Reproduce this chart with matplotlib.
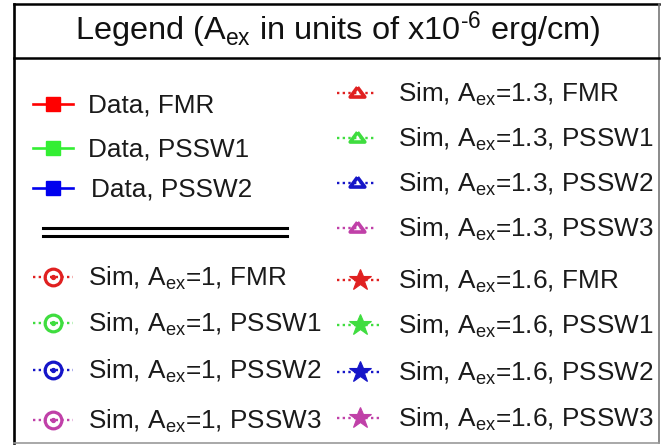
import matplotlib
matplotlib.use("Agg")
import matplotlib.pyplot as plt

plt.rcParams['font.family'] = ['Liberation Sans', 'DejaVu Sans']
plt.rcParams['mathtext.fontset'] = 'custom'
plt.rcParams['mathtext.rm'] = 'Liberation Sans'
plt.rcParams['mathtext.it'] = 'Liberation Sans:italic'
plt.rcParams['mathtext.bf'] = 'Liberation Sans:bold'

# Legend content
title = "Legend (A$_\\mathrm{ex}$ in units of x10$^\\mathrm{\u2010 6}$ erg/cm)"

modes = ["FMR", "PSSW1", "PSSW2", "PSSW3"]
data_modes = ["FMR", "PSSW1", "PSSW2"]
data_colors = ["#ff0000", "#33ee33", "#0000ee"]
sim_colors = ["#e02020", "#3fdd3f", "#1515c8", "#c040a8"]
aex_values = ["1", "1.3", "1.6"]
aex_markers = ["o", "tri", "*"]

# Layout (pixel coordinates, y grows downward)
W, H = 662, 445
left_rows = [104, 148, 188, 277, 323, 370, 420]
right_rows = [93, 138, 183, 228, 280, 325, 372, 418]
left_marker_x, left_text_x = 53, 88
right_marker_x, right_text_x = 357, 398
half_len = 20

fig = plt.figure(figsize=(W / 100, H / 100), dpi=100)
ax = fig.add_axes([0, 0, 1, 1])
ax.set_xlim(0, W)
ax.set_ylim(H, 0)
ax.axis('off')

# Frame
x0, x1, y0, y1, ysep = 14, 659, 4, 443, 58
ax.plot([x0, x1], [y0, y0], color='black', lw=1.8, solid_capstyle='projecting')
ax.plot([x0, x0], [y0, y1], color='black', lw=1.9, solid_capstyle='projecting')
ax.plot([x1, x1], [y0, y1], color='#777777', lw=1.2)
ax.plot([x0, x1], [y1, y1], color='#999999', lw=1.2)
ax.plot([x0, x1], [ysep, ysep], color='black', lw=1.8)

ax.text(338, 40, title, fontsize=23.4, ha='center', va='baseline',
        color='#111111')

tri_marker = [(0, 0.72), (-1, -0.62), (1, -0.62), (0, 0.72)]
dots = (0, (1, 1.4))


def draw_entry(xm, y, color, marker):
    xs = [xm - half_len, xm + half_len]
    if marker == "s":
        ax.plot(xs, [y, y], color=color, lw=1.9, ls='-')
        ax.plot([xm], [y], marker='s', ms=9.5, color=color, mec=color)
    elif marker == "o":
        ax.plot(xs, [y, y], color=color, lw=1.7, ls=dots)
        ax.plot([xm], [y], marker='o', ms=12, mfc='none', mec=color, mew=2.3)
        ax.plot([xm], [y], marker='o', ms=2.8, color=color, mec=color)
    elif marker == "tri":
        ax.plot([xs[0], xs[1] - 2], [y, y], color=color, lw=1.7, ls=dots)
        ax.plot([xm], [y - 1], marker=tri_marker, ms=10.5, mfc='none', mec=color, mew=2.6)
    elif marker == "*":
        ax.plot([xs[0], xs[1] + 3], [y, y], color=color, lw=1.7, ls=dots)
        ax.plot([xm + 3], [y], marker='*', ms=16.5, color=color, mec=color, mew=0.8)


def label_text(x, y, s):
    ax.text(x, y + 8.5, s, fontsize=18.8, ha='left', va='baseline', color='#1a1a1a')


# Left column: measured data
for i, (mode, col) in enumerate(zip(data_modes, data_colors)):
    y = left_rows[i]
    draw_entry(left_marker_x, y, col, "s")
    tx = left_text_x + (3 if i == 2 else 0)
    label_text(tx, y, f"Data, {mode}")

# Double separator line
ax.plot([43, 287], [228, 228], color='black', lw=2.2)
ax.plot([43, 287], [236, 236], color='black', lw=2.2)

# Left column: simulation with A_ex = 1
for j, (mode, col) in enumerate(zip(modes, sim_colors)):
    y = left_rows[3 + j]
    draw_entry(left_marker_x, y, col, aex_markers[0])
    label_text(left_text_x, y, rf"Sim, A$_\mathrm{{ex}}$={aex_values[0]}, {mode}")

# Right column: simulation with A_ex = 1.3 and 1.6
for k in (1, 2):
    for j, (mode, col) in enumerate(zip(modes, sim_colors)):
        y = right_rows[(k - 1) * 4 + j]
        draw_entry(right_marker_x, y, col, aex_markers[k])
        label_text(right_text_x, y, rf"Sim, A$_\mathrm{{ex}}$={aex_values[k]}, {mode}")

fig.savefig("out.png", dpi=100)
